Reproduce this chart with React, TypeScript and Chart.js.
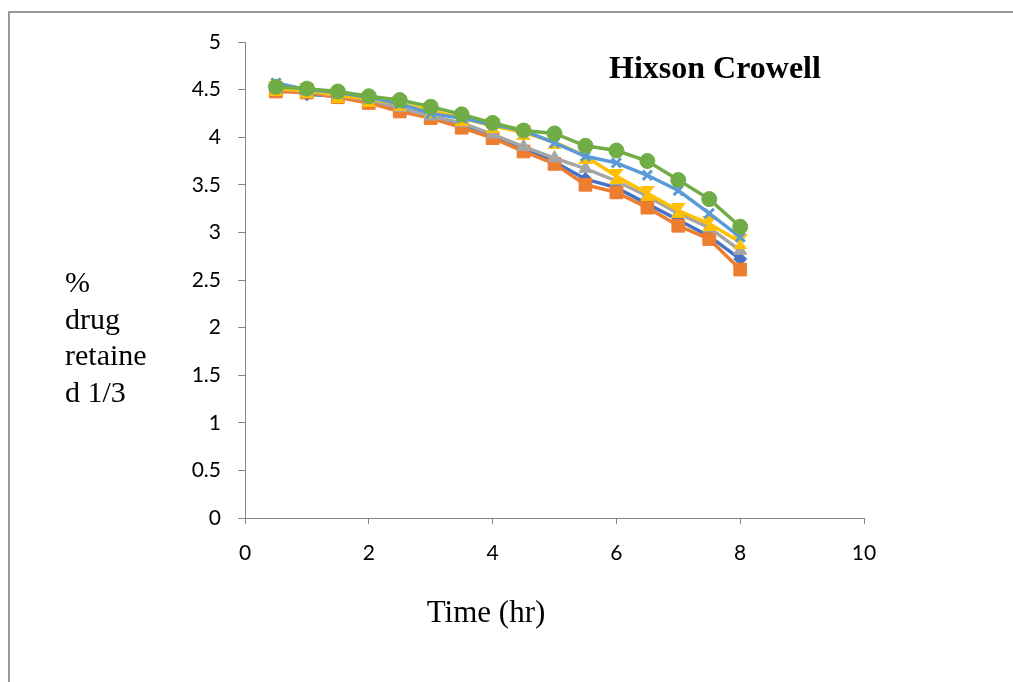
import React, { useEffect, useRef } from "react";
import { Chart, registerables } from "chart.js";

Chart.register(...registerables);

const timeHr = [0.5, 1, 1.5, 2, 2.5, 3, 3.5, 4, 4.5, 5, 5.5, 6, 6.5, 7, 7.5, 8];
const series1 = [4.52, 4.45, 4.43, 4.38, 4.30, 4.22, 4.14, 4.02, 3.88, 3.74, 3.56, 3.47, 3.30, 3.13, 2.96, 2.72];
const series2 = [4.48, 4.47, 4.42, 4.36, 4.27, 4.20, 4.10, 3.99, 3.85, 3.72, 3.50, 3.42, 3.26, 3.07, 2.93, 2.61];
const series3 = [4.51, 4.48, 4.44, 4.39, 4.31, 4.22, 4.15, 4.03, 3.90, 3.78, 3.67, 3.54, 3.38, 3.20, 3.05, 2.81];
const series4 = [4.51, 4.49, 4.44, 4.40, 4.35, 4.28, 4.20, 4.12, 4.05, 3.95, 3.80, 3.59, 3.41, 3.23, 3.09, 2.90];
const series5 = [4.57, 4.50, 4.47, 4.42, 4.35, 4.25, 4.20, 4.13, 4.07, 3.94, 3.80, 3.73, 3.60, 3.44, 3.20, 2.95];
const series6 = [4.53, 4.51, 4.48, 4.43, 4.39, 4.32, 4.24, 4.15, 4.07, 4.04, 3.91, 3.86, 3.75, 3.55, 3.35, 3.06];

const chartTitle = "Hixson Crowell";
const xTitle = "Time (hr)";
const yTitleLines = ["%", "drug", "retaine", "d 1/3"];

const pts = (ys: number[]) => ys.map((y, i) => ({ x: timeHr[i], y }));

const SERIF = "'Liberation Serif', 'Times New Roman', serif";
const SANS = "Lato, 'Open Sans', sans-serif";

const textPlugin = {
  id: "texts",
  afterDraw(chart: any) {
    const ctx = chart.ctx;
    ctx.save();
    ctx.fillStyle = "#000";
    ctx.textBaseline = "alphabetic";
    ctx.font = `bold 32px ${SERIF}`;
    ctx.textAlign = "left";
    ctx.fillText(chartTitle, 609, 78);
    ctx.font = `31px ${SERIF}`;
    ctx.textAlign = "center";
    ctx.fillText(xTitle, 486, 622);
    ctx.textAlign = "left";
    ctx.font = `30px ${SERIF}`;
    yTitleLines.forEach((t, i) => ctx.fillText(t, 65, 292 + i * 36.5));
    ctx.restore();
  },
};

function hourglass(color: string, size: number) {
  const c = document.createElement("canvas");
  c.width = size;
  c.height = size;
  const g = c.getContext("2d")!;
  g.fillStyle = color;
  g.beginPath();
  g.moveTo(0, 0);
  g.lineTo(size, 0);
  g.lineTo(size / 2 + 1.5, size / 2);
  g.lineTo(size, size);
  g.lineTo(0, size);
  g.lineTo(size / 2 - 1.5, size / 2);
  g.closePath();
  g.fill();
  return c;
}

export default function App() {
  const ref = useRef<HTMLCanvasElement | null>(null);
  useEffect(() => {
    if (!ref.current) return;
    const mk = (label: string, data: number[], color: string, style: any, radius: number, bw: number, fill = true) => ({
      label,
      data: pts(data),
      borderColor: color,
      backgroundColor: color,
      pointBackgroundColor: fill ? color : "transparent",
      pointBorderColor: color,
      pointStyle: style,
      pointRadius: radius,
      pointBorderWidth: bw,
      borderWidth: 3.5,
      showLine: true,
      tension: 0,
    });
    const chart = new Chart(ref.current, {
      type: "scatter",
      data: {
        datasets: [
          mk("6", series6, "#70AD47", "circle", 7.5, 1),
          mk("5", series5, "#5B9BD5", "crossRot", 6.5, 3, false),
          mk("4", series4, "#FFC000", hourglass("#FFC000", 15), 7, 1),
          mk("3", series3, "#A5A5A5", "triangle", 7.5, 1),
          mk("2", series2, "#ED7D31", "rect", 9, 1),
          mk("1", series1, "#4472C4", "rectRot", 6.5, 1),
        ] as any,
      },
      options: {
        responsive: false,
        animation: false,
        events: [],
        layout: { padding: { left: 0, top: 42, right: 149, bottom: 0 } },
        plugins: { legend: { display: false }, tooltip: { enabled: false }, title: { display: false } },
        scales: {
          x: {
            type: "linear",
            min: 0,
            max: 10,
            afterFit: (s: any) => { s.height = 164; },
            ticks: { stepSize: 2, color: "#000", padding: 17, font: { family: SANS, size: 21 }, callback: (v: any) => String(v) },
            grid: { display: true, drawOnChartArea: false, drawTicks: true, tickLength: 6, color: "#868686" },
            border: { color: "#868686", width: 1 },
          },
          y: {
            type: "linear",
            min: 0,
            max: 5,
            afterFit: (s: any) => { s.width = 245; },
            ticks: { stepSize: 0.5, color: "#000", padding: 17, font: { family: SANS, size: 21 }, callback: (v: any) => String(v) },
            grid: { display: true, drawOnChartArea: false, drawTicks: true, tickLength: 7, color: "#868686" },
            border: { color: "#868686", width: 1 },
          },
        },
      },
      plugins: [textPlugin],
    });
    return () => chart.destroy();
  }, []);
  return (
    <div style={{ position: "fixed", left: 0, top: 0, width: 1013, height: 682, background: "#fff", overflow: "hidden" }}>
      <div style={{ position: "absolute", left: 8, top: 11, width: 1100, height: 800, borderTop: "2px solid #9a9a9a", borderLeft: "2px solid #9a9a9a" }} />
      <canvas ref={ref} width={1013} height={682} style={{ position: "absolute", left: 0, top: 0 }} />
    </div>
  );
}
